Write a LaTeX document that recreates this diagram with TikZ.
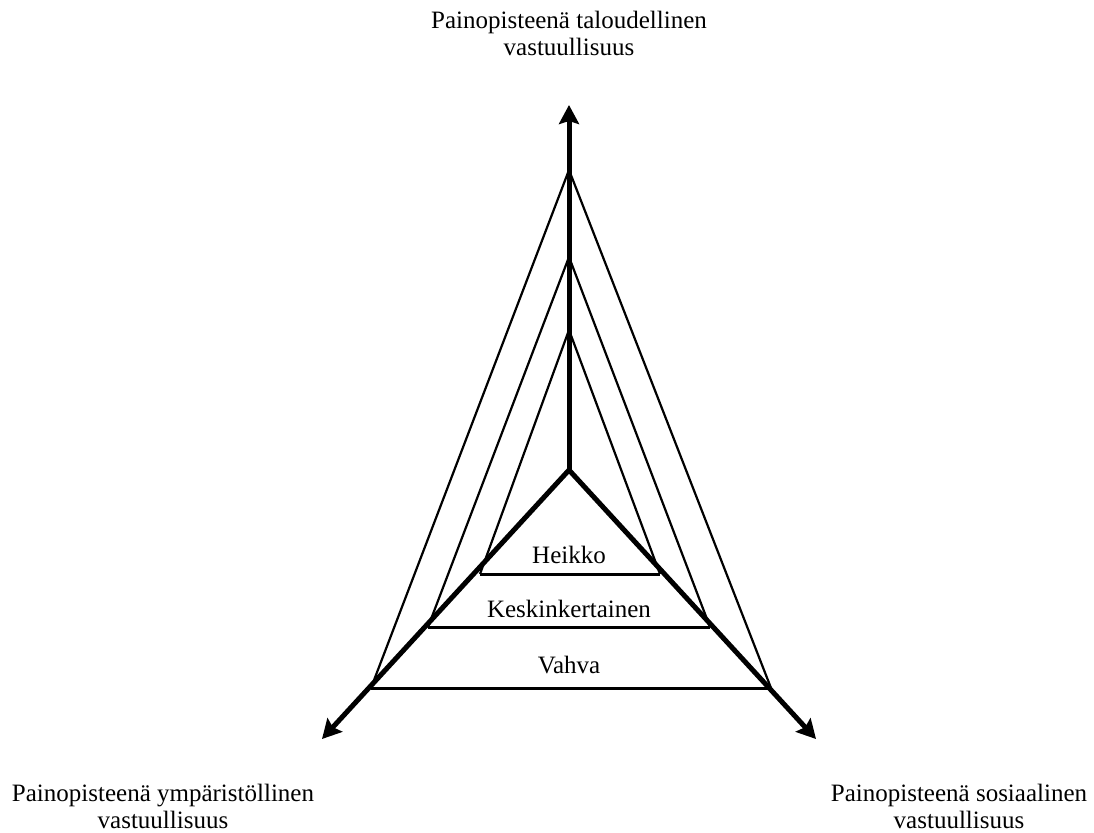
\documentclass[tikz,border=0pt]{standalone}
\usepackage{fontspec}
\setmainfont{Liberation Serif}
\usepackage{tikz}
\usetikzlibrary{arrows.meta}
\usetikzlibrary{positioning}
\tikzset{
  axis/.style = {line width=5pt, -{Stealth[length=19pt,width=20pt,inset=3pt]}},% akseli
  ring/.style = {line width=2.2pt, line join=miter},% tason sivut
  ring_base/.style = {line width=3pt},% tason pohja
  level_lbl/.style = {font=\fontsize{25}{27}\selectfont, inner sep=0pt, anchor=base},
  corner_lbl/.style = {align=center, font=\fontsize{25}{27}\selectfont, inner sep=0pt}
}
\begin{document}
\begin{tikzpicture}[x=1pt,y=-1pt]
\useasboundingbox (0,0) rectangle (1094,832);
\coordinate (o) at (569,470);
% tasot
\coordinate (a1) at (569,330); \coordinate (l1) at (480,574); \coordinate (r1) at (660,574);
\coordinate (a2) at (569,257); \coordinate (l2) at (428,627); \coordinate (r2) at (710,627);
\coordinate (a3) at (569,170); \coordinate (l3) at (371,688); \coordinate (r3) at (771,688);
\foreach \k in {1,2,3}{
  \draw [ring] (l\k) -- (a\k) -- (r\k);
  \draw [ring_base] (l\k) -- (r\k);
}
% akselit
\coordinate (t) at (569,105);
\coordinate (lt) at (322,739);
\coordinate (rt) at (816,739);
\draw [axis] (o) -- (t);
\draw [axis] (o) -- (lt);
\draw [axis] (o) -- (rt);
\node [level_lbl] (weak) at (569,563) {Heikko};
\node [level_lbl] (mid) at (569,617) {Keskinkertainen};
\node [level_lbl] (strong) at (569,673) {Vahva};
\node [corner_lbl] (econ) at (569,33) {Painopisteenä taloudellinen\\vastuullisuus};
\node [corner_lbl] (env) at (163,806) {Painopisteenä ympäristöllinen\\vastuullisuus};
\node [corner_lbl] (soc) at (959,806) {Painopisteenä sosiaalinen\\vastuullisuus};
\end{tikzpicture}
\end{document}
